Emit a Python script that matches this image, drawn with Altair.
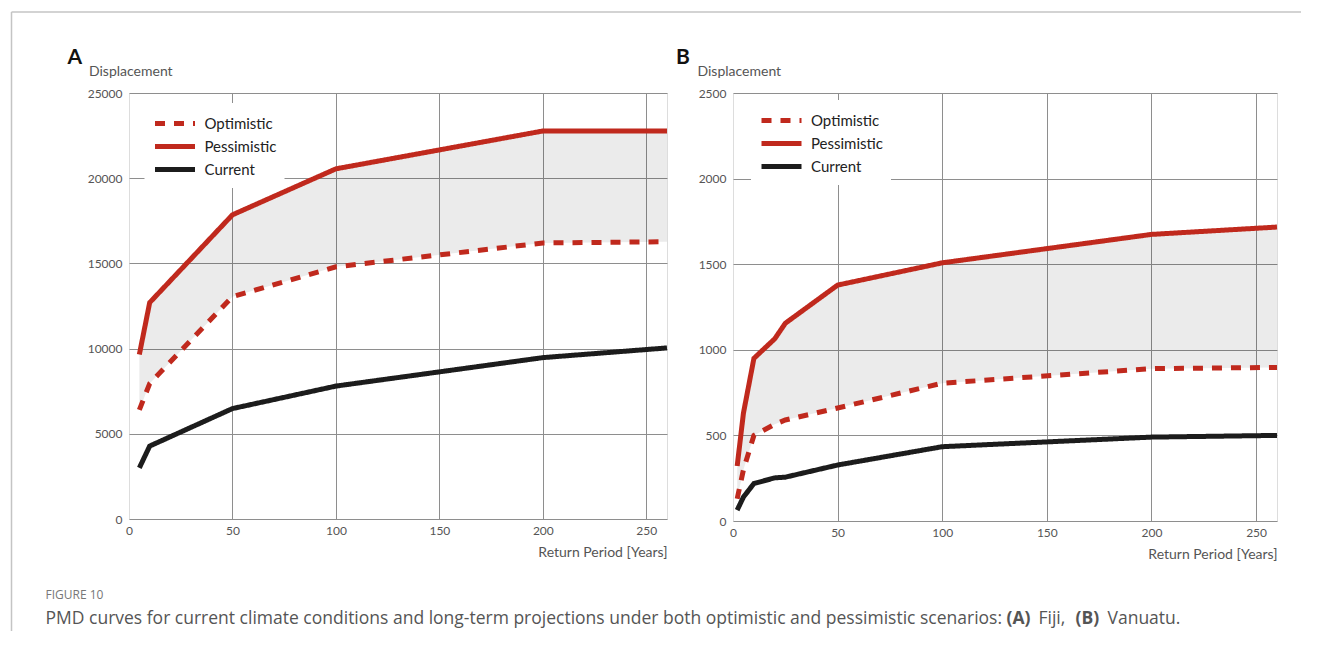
import altair as alt
import pandas as pd

# ---------------- data ----------------
scenarios = ["Optimistic", "Pessimistic", "Current"]

# Panel A (Fiji)
a_rp = [5, 10, 50, 100, 200, 260]
a_opt = [6400, 7950, 13050, 14800, 16200, 16270]
a_pes = [9650, 12700, 17850, 20550, 22770, 22770]
a_cur = [3000, 4280, 6480, 7800, 9470, 10040]

# Panel B (Vanuatu)
b_rp = [2, 5, 10, 20, 25, 50, 100, 200, 260]
b_opt = [130, 300, 500, 565, 590, 660, 805, 890, 897]
b_pes = [321, 631, 950, 1065, 1155, 1378, 1508, 1674, 1717]
b_cur = [64, 140, 219, 252, 256, 327, 434, 490, 500]

x_ticks = [0, 50, 100, 150, 200, 250]
a_y_ticks = [0, 5000, 10000, 15000, 20000, 25000]
b_y_ticks = [0, 500, 1000, 1500, 2000, 2500]

caption_head = "FIGURE 10"
caption_parts = [
    ("PMD curves for current climate conditions and long-term projections under both optimistic and pessimistic scenarios:", "normal"),
    ("(A)", "bold"),
    ("Fiji,", "normal"),
    ("(B)", "bold"),
    ("Vanuatu.", "normal"),
]

RED = "#c0291d"
BLACK = "#1c1c1c"
FONT = "Lato"
GRID = "#8e8e8e"


def panel(rp, opt, pes, cur, width, height, ymax, yticks, letter, leg_x, leg_y, title_x):
    long = pd.DataFrame(
        {
            "rp": rp * 3,
            "value": opt + pes + cur,
            "scenario": ["Optimistic"] * len(rp) + ["Pessimistic"] * len(rp) + ["Current"] * len(rp),
        }
    )
    wide = pd.DataFrame({"rp": rp, "opt": opt, "pes": pes})

    xaxis = alt.Axis(
        values=x_ticks, title="Return Period [Years]", titleX=width, titleY=37,
        titleAlign="right", titleBaseline="alphabetic", titleFont=FONT, titleFontSize=14,
        titleFontWeight="normal", titleColor="#555", labelFont=FONT, labelFontSize=12,
        labelColor="#555", labelPadding=6, labelFlush=False, ticks=False, domain=False,
        grid=True, gridColor=GRID, gridWidth=1,
        gridOpacity=alt.condition("datum.value == 0", alt.value(0), alt.value(1)),
    )
    yaxis = alt.Axis(
        values=yticks, format="d", title="Displacement", titleAngle=0, titleX=title_x,
        titleY=-18, titleAlign="left", titleBaseline="alphabetic", titleFont=FONT,
        titleFontSize=14, titleFontWeight="normal", titleColor="#555", labelFont=FONT,
        labelFontSize=12, labelColor="#555", labelPadding=7, ticks=False, domain=False,
        grid=True, gridColor=GRID, gridWidth=1,
    )
    xs = alt.Scale(domain=[0, 260], nice=False, zero=False)
    ys = alt.Scale(domain=[0, ymax], nice=False)

    area = alt.Chart(wide).mark_area(color="#000000", opacity=0.08).encode(
        x=alt.X("rp:Q", scale=xs, axis=xaxis),
        y=alt.Y("pes:Q", scale=ys, axis=yaxis),
        y2="opt:Q",
    )
    leg = alt.Legend(
        title=None, orient="none", legendX=leg_x, legendY=leg_y, fillColor="white",
        padding=8, symbolType="M-1,0H3", symbolSize=400, symbolStrokeWidth=5,
        labelFont=FONT, labelFontSize=15, labelColor="#222", labelOffset=27,
        rowPadding=-2,
    )
    lines = alt.Chart(long).mark_line(strokeWidth=5, strokeCap="butt").encode(
        x=alt.X("rp:Q", scale=xs, axis=xaxis),
        y=alt.Y("value:Q", scale=ys, axis=yaxis),
        color=alt.Color("scenario:N", scale=alt.Scale(domain=scenarios, range=[RED, RED, BLACK]), legend=leg),
        strokeDash=alt.StrokeDash(
            "scenario:N", scale=alt.Scale(domain=scenarios, range=[[10, 9], [1, 0], [1, 0]]), legend=leg
        ),
    )
    letter_mark = alt.Chart(pd.DataFrame({"t": [letter]})).mark_text(
        align="left", baseline="alphabetic", font=FONT, fontSize=21, fontWeight="bold", color="#111"
    ).encode(text="t:N", x=alt.value(title_x - 21), y=alt.value(-29))
    return [area, lines, letter_mark]


a_layers = panel(a_rp, a_opt, a_pes, a_cur, 538, 426, 25000, a_y_ticks, "A", 15.5, 10, -40.5)
b_layers = panel(b_rp, b_opt, b_pes, b_cur, 544, 428, 2500, b_y_ticks, "B", 18, 7, -36)

# caption + frame (in panel A coordinates)
cap_x = -83.5
head = alt.Chart(pd.DataFrame({"t": [caption_head]})).mark_text(
    align="left", baseline="alphabetic", font="Open Sans", fontSize=12, color="#777"
).encode(text="t:N", x=alt.value(cap_x), y=alt.value(506))

part_x = [cap_x, 877.5, 909.5, 946.5, 978.5]
cap_marks = []
for (txt, wt), px in zip(caption_parts, part_x):
    cap_marks.append(
        alt.Chart(pd.DataFrame({"t": [txt]})).mark_text(
            align="left", baseline="alphabetic", font="Open Sans", fontSize=17.5,
            fontWeight=wt, color="#555"
        ).encode(text="t:N", x=alt.value(px), y=alt.value(531))
    )

frame_top = alt.Chart(pd.DataFrame({"k": [0]})).mark_rule(color="#c4c4c4", strokeWidth=1.5).encode(
    x=alt.value(-117.5), x2=alt.value(1172), y=alt.value(-81)
)
frame_left = alt.Chart(pd.DataFrame({"k": [0]})).mark_rule(color="#c4c4c4", strokeWidth=1.5).encode(
    x=alt.value(-117.5), y=alt.value(-81), y2=alt.value(538)
)

chart_a = alt.layer(*a_layers, head, *cap_marks, frame_top, frame_left).properties(width=538, height=426)
chart_b = alt.layer(*b_layers).properties(width=544, height=428)

chart = (
    alt.hconcat(chart_a, chart_b, spacing=66, bounds="flush")
    .resolve_scale(x="independent", y="independent", color="independent", strokeDash="independent")
    .resolve_legend(color="independent", strokeDash="independent")
    .properties(padding={"left": 2, "top": 2, "right": 0, "bottom": 0})
    .configure_view(stroke=None)
    .configure(background="white")
)

chart.save("out.html", embed_options={"renderer": "svg", "actions": False})
